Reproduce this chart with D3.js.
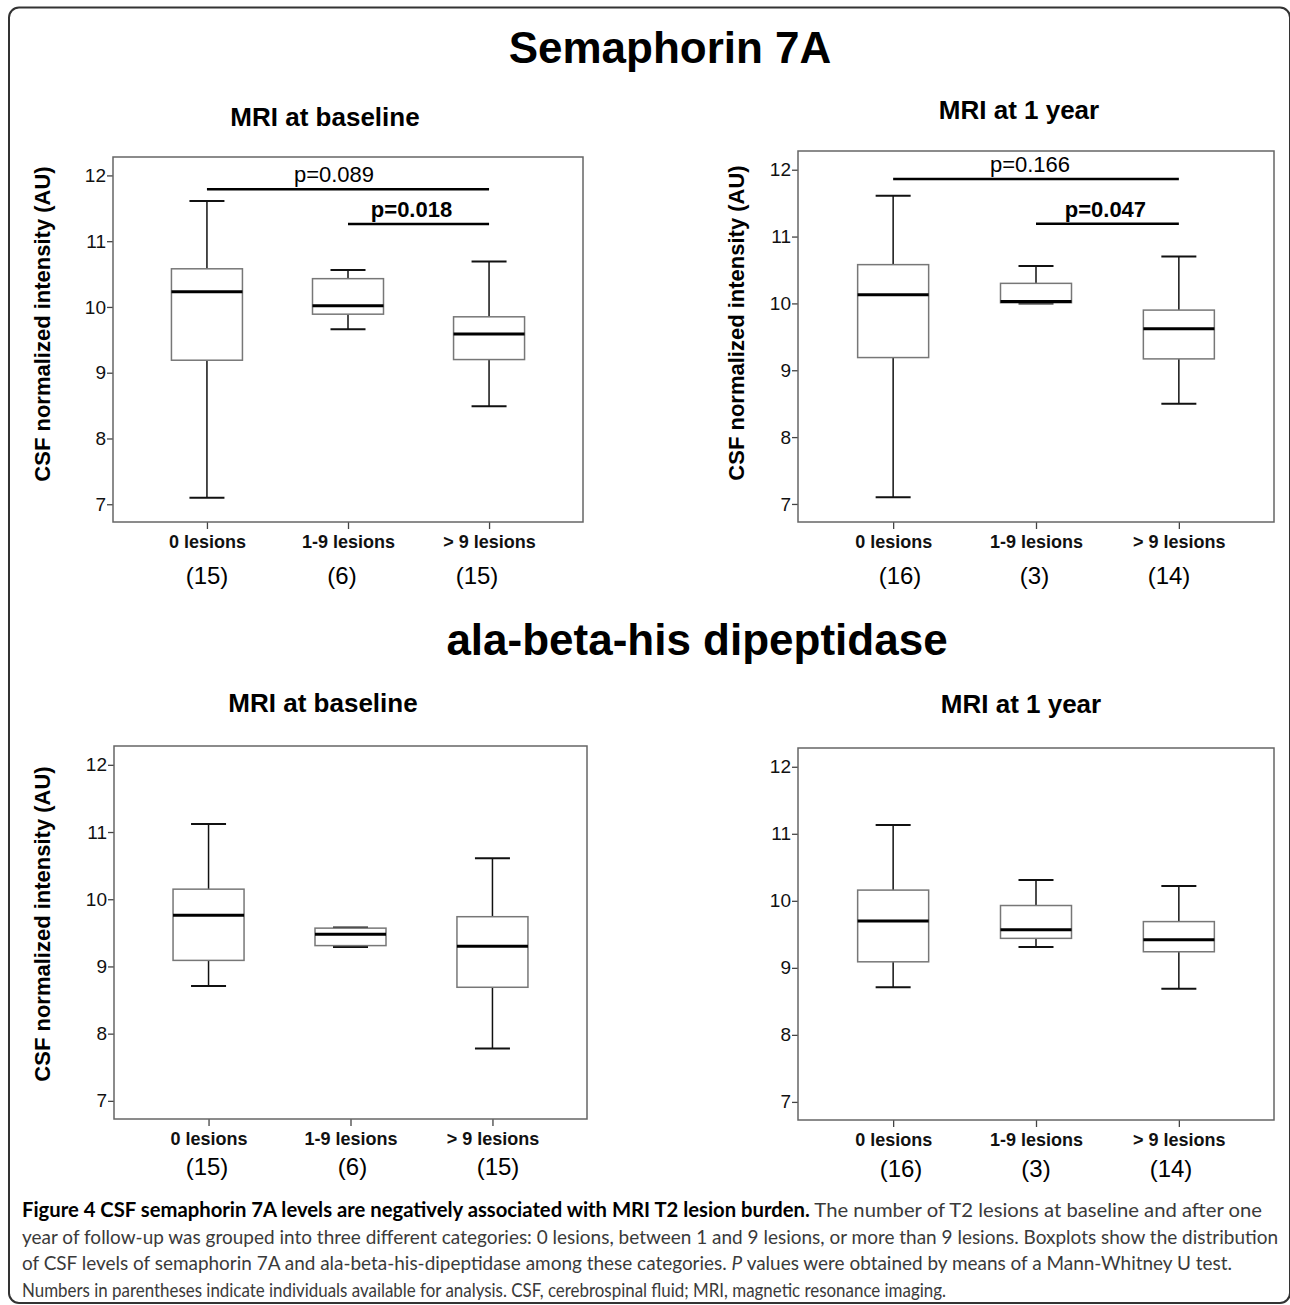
<!DOCTYPE html>
<html lang="en">
<head>
	<meta charset="UTF-8">
	<title>Semaphorin 7A / ala-beta-his dipeptidase boxplots</title>
	<script src="https://d3js.org/d3.v7.min.js"></script>
	<style>
		body { margin: 0; background: #fff; }
		svg { display: block; font-family: "Liberation Sans", Arial, Helvetica, sans-serif; }
	</style>
</head>
<body>

	<svg width="1290" height="1305"></svg>

	<script>

		// categories and tick values
		var categories = ["0 lesions", "1-9 lesions", "> 9 lesions"];
		var yTicks = [7, 8, 9, 10, 11, 12];

		// box summaries per category: [min, q1, median, q3, max]
		var semaBaseline = [[7.10, 9.19, 10.23, 10.58, 11.61], [9.66, 9.89, 10.02, 10.43, 10.56], [8.49, 9.20, 9.59, 9.85, 10.69]];
		var semaYear = [[7.10, 9.19, 10.13, 10.58, 11.61], [10.00, 10.01, 10.03, 10.30, 10.56], [8.50, 9.17, 9.62, 9.90, 10.70]];
		var abhdBaseline = [[8.71, 9.09, 9.76, 10.15, 11.12], [9.29, 9.31, 9.48, 9.57, 9.58], [7.78, 8.69, 9.30, 9.74, 10.61]];
		var abhdYear = [[8.71, 9.09, 9.70, 10.16, 11.13], [9.31, 9.44, 9.57, 9.93, 10.31], [8.69, 9.24, 9.42, 9.69, 10.22]];

		// number of individuals
		var nBaseline = [15, 6, 15];
		var nYear = [16, 3, 14];

		// significance brackets
		var semaBaselineP = [
			{ from: 0, to: 2, value: 11.79, label: "p=0.089", bold: false },
			{ from: 1, to: 2, value: 11.26, label: "p=0.018", bold: true }
		];
		var semaYearP = [
			{ from: 0, to: 2, value: 11.86, label: "p=0.166", bold: false },
			{ from: 1, to: 2, value: 11.19, label: "p=0.047", bold: true }
		];

		var yDomain = [6.73, 12.28];

		var svg = d3.select("svg");

		// outer rounded frame
		svg.append("rect")
			.attr("x", 9)
			.attr("y", 7.5)
			.attr("width", 1281)
			.attr("height", 1295.5)
			.attr("rx", 10)
			.attr("fill", "none")
			.attr("stroke", "#333")
			.attr("stroke-width", 2);

		// section titles
		svg.append("text")
			.attr("x", 670)
			.attr("y", 63)
			.attr("text-anchor", "middle")
			.style("font-size", "44px")
			.style("font-weight", "bold")
			.text("Semaphorin 7A");

		svg.append("text")
			.attr("x", 697)
			.attr("y", 655)
			.attr("text-anchor", "middle")
			.style("font-size", "44px")
			.style("font-weight", "bold")
			.text("ala-beta-his dipeptidase");

		var panels = [
			{ left: 113, top: 157, right: 583, bottom: 522, title: "MRI at baseline", titleX: 325, titleY: 126,
			  boxes: semaBaseline, counts: nBaseline, pvals: semaBaselineP, pDx: [-14, -7],
			  ylabelX: 42, ylabelY: 324, countRange: [207, 477], countDy: 62 },
			{ left: 798, top: 151, right: 1274, bottom: 522, title: "MRI at 1 year", titleX: 1019, titleY: 119,
			  boxes: semaYear, counts: nYear, pvals: semaYearP, pDx: [-6, -2],
			  ylabelX: 736, ylabelY: 323, countRange: [900, 1169], countDy: 62 },
			{ left: 114, top: 746, right: 587, bottom: 1119, title: "MRI at baseline", titleX: 323, titleY: 712,
			  boxes: abhdBaseline, counts: nBaseline, pvals: [], pDx: [],
			  ylabelX: 42, ylabelY: 924, countRange: [207, 498], countDy: 56 },
			{ left: 798, top: 748, right: 1274, bottom: 1120, title: "MRI at 1 year", titleX: 1021, titleY: 713,
			  boxes: abhdYear, counts: nYear, pvals: [], pDx: [],
			  ylabelX: null, ylabelY: null, countRange: [901, 1171], countDy: 57 }
		];

		panels.forEach(function(p) {

			var w = p.right - p.left;
			var h = p.bottom - p.top;

			var g = svg.append("g")
				.attr("transform", "translate(" + p.left + "," + p.top + ")");

			var x = d3.scalePoint()
				.domain(categories)
				.range([0, w])
				.padding(0.666);

			var y = d3.scaleLinear()
				.domain(yDomain)
				.range([h, 0]);

			//Y axis
			var yAxis = g.append("g")
				.call(d3.axisLeft(y).tickValues(yTicks).tickFormat(d3.format("d")).tickSize(6).tickPadding(1));
			yAxis.select(".domain").remove();
			yAxis.selectAll("line").attr("stroke", "#444").attr("stroke-width", 1.3);
			yAxis.selectAll("text")
				.style("font-size", "19px")
				.style("font-family", "'Liberation Sans', Arial, sans-serif")
				.attr("fill", "#111");

			//X axis
			var xAxis = g.append("g")
				.attr("transform", "translate(0," + h + ")")
				.call(d3.axisBottom(x).tickSize(7).tickPadding(6));
			xAxis.select(".domain").remove();
			xAxis.selectAll("line").attr("stroke", "#444").attr("stroke-width", 1.3);
			xAxis.selectAll("text")
				.style("font-size", "18px")
				.style("font-weight", "bold")
				.style("font-family", "'Liberation Sans', Arial, sans-serif")
				.attr("fill", "#111");

			// plot frame
			g.append("rect")
				.attr("width", w)
				.attr("height", h)
				.attr("fill", "none")
				.attr("stroke", "#666")
				.attr("stroke-width", 1.5);

			var boxW = 71;
			var capW = 35;

			var box = g.selectAll(".box")
				.data(p.boxes)
				.enter()
				.append("g")
				.attr("class", "box")
				.attr("transform", function(d, i) { return "translate(" + x(categories[i]) + ",0)"; });

			// whiskers
			box.append("line")
				.attr("y1", function(d) { return y(d[0]); })
				.attr("y2", function(d) { return y(d[1]); })
				.attr("stroke", "#111").attr("stroke-width", 1.5);
			box.append("line")
				.attr("y1", function(d) { return y(d[3]); })
				.attr("y2", function(d) { return y(d[4]); })
				.attr("stroke", "#111").attr("stroke-width", 1.5);

			// caps
			[0, 4].forEach(function(k) {
				box.append("line")
					.attr("x1", -capW / 2)
					.attr("x2", capW / 2)
					.attr("y1", function(d) { return y(d[k]); })
					.attr("y2", function(d) { return y(d[k]); })
					.attr("stroke", "#111").attr("stroke-width", 2);
			});

			// box
			box.append("rect")
				.attr("x", -boxW / 2)
				.attr("width", boxW)
				.attr("y", function(d) { return y(d[3]); })
				.attr("height", function(d) { return y(d[1]) - y(d[3]); })
				.attr("fill", "#fff")
				.attr("stroke", "#777")
				.attr("stroke-width", 1.5);

			// median
			box.append("line")
				.attr("x1", -boxW / 2)
				.attr("x2", boxW / 2)
				.attr("y1", function(d) { return y(d[2]); })
				.attr("y2", function(d) { return y(d[2]); })
				.attr("stroke", "#000").attr("stroke-width", 3);

			// brackets
			p.pvals.forEach(function(b, i) {
				var x1 = x(categories[b.from]);
				var x2 = x(categories[b.to]);
				g.append("line")
					.attr("x1", x1).attr("x2", x2)
					.attr("y1", y(b.value)).attr("y2", y(b.value))
					.attr("stroke", "#000").attr("stroke-width", 2.5);
				g.append("text")
					.attr("x", (x1 + x2) / 2 + p.pDx[i])
					.attr("y", y(b.value) - 7)
					.attr("text-anchor", "middle")
					.style("font-size", "22px")
					.style("font-weight", b.bold ? "bold" : "normal")
					.text(b.label);
			});

			// panel title
			svg.append("text")
				.attr("x", p.titleX)
				.attr("y", p.titleY)
				.attr("text-anchor", "middle")
				.style("font-size", "26px")
				.style("font-weight", "bold")
				.text(p.title);

			// y label
			if (p.ylabelX != null) {
				svg.append("text")
					.attr("transform", "translate(" + p.ylabelX + "," + p.ylabelY + ") rotate(-90)")
					.attr("dy", "0.36em")
					.attr("text-anchor", "middle")
					.style("font-size", "22px")
					.style("font-weight", "bold")
					.text("CSF normalized intensity (AU)");
			}

			// counts
			var cx = d3.scalePoint().domain(categories).range(p.countRange);
			svg.selectAll(null)
				.data(p.counts)
				.enter()
				.append("text")
				.attr("x", function(d, i) { return cx(categories[i]); })
				.attr("y", p.bottom + p.countDy)
				.attr("text-anchor", "middle")
				.style("font-size", "24px")
				.text(function(d) { return "(" + d + ")"; });
		});

		// caption
		var caption = svg.append("g")
			.style("font-family", "Lato, 'Open Sans', sans-serif")
			.style("font-size", "20px")
			.attr("fill", "#3a3a3a");

		var l1 = caption.append("text").attr("x", 22).attr("y", 1217).attr("textLength", 1240).attr("lengthAdjust", "spacingAndGlyphs");
		l1.append("tspan").attr("font-weight", "bold").attr("fill", "#000")
			.text("Figure 4 CSF semaphorin 7A levels are negatively associated with MRI T2 lesion burden.");
		l1.append("tspan").text(" The number of T2 lesions at baseline and after one");

		caption.append("text").attr("x", 22).attr("y", 1244).attr("textLength", 1256).attr("lengthAdjust", "spacingAndGlyphs")
			.text("year of follow-up was grouped into three different categories: 0 lesions, between 1 and 9 lesions, or more than 9 lesions. Boxplots show the distribution");

		var l3 = caption.append("text").attr("x", 22).attr("y", 1270).attr("textLength", 1210).attr("lengthAdjust", "spacingAndGlyphs");
		l3.append("tspan").text("of CSF levels of semaphorin 7A and ala-beta-his-dipeptidase among these categories. ");
		l3.append("tspan").attr("font-style", "italic").text("P");
		l3.append("tspan").text(" values were obtained by means of a Mann-Whitney U test.");

		caption.append("text").attr("x", 22).attr("y", 1297).attr("textLength", 924).attr("lengthAdjust", "spacingAndGlyphs")
			.text("Numbers in parentheses indicate individuals available for analysis. CSF, cerebrospinal fluid; MRI, magnetic resonance imaging.");

	</script>

</body>
</html>
